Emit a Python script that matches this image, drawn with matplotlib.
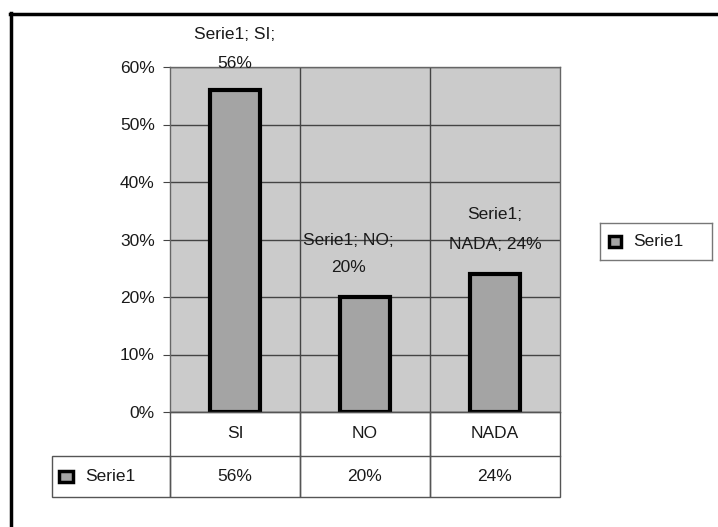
import matplotlib
matplotlib.use("Agg")
import matplotlib.pyplot as plt
from matplotlib.patches import Rectangle
from matplotlib.lines import Line2D

categories = ["SI", "NO", "NADA"]
values = [56, 20, 24]
series_name = "Serie1"
yticks = [0, 10, 20, 30, 40, 50, 60]

plt.rcParams["font.family"] = ["Liberation Sans", "DejaVu Sans"]
FS = 12.5

W, H = 718, 527
fig = plt.figure(figsize=(W / 100, H / 100), dpi=100)


def fx(px):
    return px / W


def fy(py):
    return 1 - py / H


# outer frame (clipped on right and bottom as in the scan)
fig.add_artist(Line2D([fx(11), fx(11)], [fy(13), fy(530)], color="black", lw=2.5))
fig.add_artist(Line2D([fx(10), fx(720)], [fy(14), fy(14)], color="black", lw=2.5))

left, right, top, bottom = 170, 560, 67, 412
ax = fig.add_axes([fx(left), fy(bottom), fx(right - left), (bottom - top) / H])
ax.set_facecolor("#cbcbcb")
ax.set_xlim(-0.5, len(categories) - 0.5)
ax.set_ylim(0, 60)
ax.set_yticks(yticks)
ax.set_yticklabels([f"{t}%" for t in yticks], fontsize=FS, color="#1a1a1a")
ax.set_xticks([])
ax.tick_params(axis="y", length=5, color="#444444", pad=6)
ax.yaxis.grid(True, color="#444444", lw=1)
for b in [0.5, 1.5]:
    ax.axvline(b, color="#444444", lw=1)
ax.set_axisbelow(True)
for s in ax.spines.values():
    s.set_color("#666666")
    s.set_linewidth(1)

x = list(range(len(categories)))
ax.bar(x, values, width=0.39, color="#a4a4a4", edgecolor="black", linewidth=3, zorder=3)

# data labels
ax.text(0, 63.1, f"{series_name}; SI;\n56%", ha="center", va="center",
        fontsize=FS, linespacing=2.2, color="#1a1a1a", zorder=5)
ax.text(0.87, 27.5, f"{series_name}; NO;\n20%", ha="center", va="center",
        fontsize=FS, linespacing=2.05, color="#1a1a1a", zorder=5)
ax.text(2.0, 31.7, f"{series_name};\nNADA; 24%", ha="center", va="center",
        fontsize=FS, linespacing=2.25, color="#1a1a1a", zorder=5)

# data table below the plot
t_top, t_mid, t_bot = 412, 456, 497
tax = fig.add_axes([fx(left), fy(t_bot), fx(right - left), (t_bot - t_top) / H])
tax.set_xlim(-0.5, len(categories) - 0.5)
tax.set_ylim(0, t_bot - t_top)
tax.axis("off")
mid = t_bot - t_mid
edge = "#555555"
for i, (c, v) in enumerate(zip(categories, values)):
    tax.add_patch(Rectangle((i - 0.5, 0), 1, t_bot - t_top, fill=False,
                            edgecolor=edge, lw=1, clip_on=False))
    tax.plot([i - 0.5, i + 0.5], [mid, mid], color=edge, lw=1, clip_on=False)
    tax.text(i, mid + (t_mid - t_top) / 2, c, ha="center", va="center",
             fontsize=FS, color="#1a1a1a")
    tax.text(i, mid / 2, f"{v}%", ha="center", va="center",
             fontsize=FS, color="#1a1a1a")
lx0 = -0.5 - (left - 52) / 130
tax.add_patch(Rectangle((lx0, 0), -0.5 - lx0, mid, fill=False,
                        edgecolor=edge, lw=1, clip_on=False))
tax.add_patch(Rectangle((lx0 + 6.5 / 130, mid / 2 - 5.5), 14 / 130, 11,
                        facecolor="#a4a4a4", edgecolor="black", lw=2.5, clip_on=False))
tax.text(lx0 + 33 / 130, mid / 2, series_name, ha="left", va="center",
         fontsize=FS, color="#1a1a1a")

# legend box
lax = fig.add_axes([fx(600), fy(260), fx(712 - 600), 37 / H])
lax.set_xlim(0, 112)
lax.set_ylim(0, 37)
lax.set_xticks([])
lax.set_yticks([])
for s in lax.spines.values():
    s.set_color("#777777")
    s.set_linewidth(1)
lax.add_patch(Rectangle((9, 13), 12, 11, facecolor="#a4a4a4", edgecolor="black", lw=2.5))
lax.text(33, 18.5, series_name, ha="left", va="center", fontsize=FS, color="#1a1a1a")

fig.savefig("out.png", dpi=100)
